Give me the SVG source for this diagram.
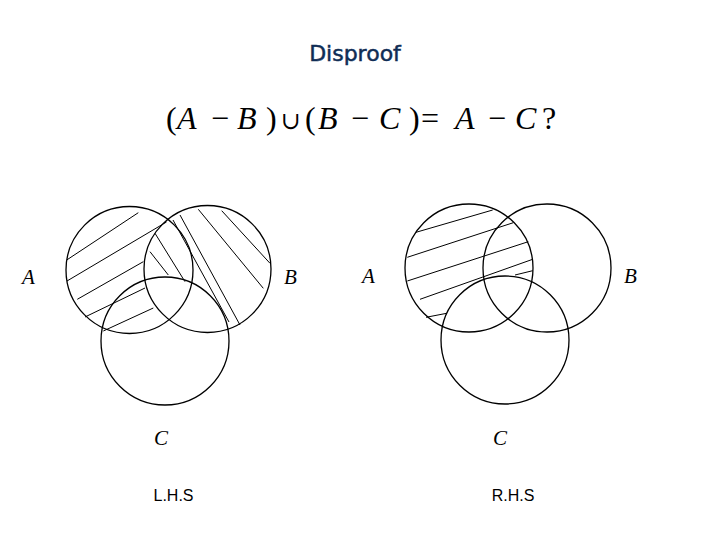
<svg xmlns="http://www.w3.org/2000/svg" width="720" height="540" viewBox="0 0 720 540">
<style>
.c{fill:none;stroke:#000;stroke-width:1.3}
.h{stroke:#000;stroke-width:1;fill:none}
.lbl{font-family:"Liberation Serif",serif;font-style:italic;font-size:21px;fill:#000}
.m{font-family:"Liberation Serif","DejaVu Serif",serif;font-size:32px;fill:#000}
.mi{font-style:italic}
.cap{font-family:"Liberation Sans",Arial,sans-serif;font-size:16px;fill:#000;text-anchor:middle}
</style>
<rect width="720" height="540" fill="#fff"/>
<text x="355" y="61" text-anchor="middle" font-family="'Comic Sans MS','DejaVu Sans',sans-serif" font-size="22" fill="#0f2d55" stroke="#0f2d55" stroke-width="0.5">Disproof</text>
<text class="m" y="129"><tspan x="166">(</tspan><tspan x="177" class="mi">A</tspan><tspan x="211">−</tspan><tspan x="237" class="mi">B</tspan><tspan x="266">)</tspan><tspan x="281" font-size="24">∪</tspan><tspan x="305">(</tspan><tspan x="318" class="mi">B</tspan><tspan x="351">−</tspan><tspan x="379" class="mi">C</tspan><tspan x="409">)</tspan><tspan x="421">=</tspan><tspan x="455" class="mi">A</tspan><tspan x="488">−</tspan><tspan x="515" class="mi">C</tspan><tspan x="542">?</tspan></text>
<g id="lhs">
<circle id="lA" class="c" cx="129.5" cy="270" r="63.5"/>
<circle id="lB" class="c" cx="207.5" cy="269" r="63.5"/>
<circle id="lC" class="c" cx="165" cy="341" r="64"/>
<g id="lhatch" class="h">
<line x1="66.7" y1="260" x2="138.3" y2="212.7"/>
<line x1="67" y1="281" x2="166.5" y2="222"/>
<line x1="77.3" y1="299.3" x2="143.3" y2="261.7"/>
<line x1="85" y1="317" x2="145" y2="288"/>
<line x1="103.3" y1="331" x2="153.3" y2="308"/>
<line x1="155" y1="233.3" x2="185" y2="281.7"/>
<line x1="150" y1="251.7" x2="168.3" y2="275"/>
<line x1="173" y1="220" x2="229" y2="322"/>
<line x1="180" y1="215" x2="240" y2="325"/>
<line x1="198.3" y1="209.3" x2="263.3" y2="288.3"/>
<line x1="221.7" y1="210.7" x2="270" y2="263.3"/>
</g>
<text class="lbl" x="22" y="284">A</text>
<text class="lbl" x="284" y="284">B</text>
<text class="lbl" x="154" y="445">C</text>
<text class="cap" x="173.5" y="501">L.H.S</text>
</g>
<g id="rhs">
<circle id="rA" class="c" cx="469" cy="268" r="64"/>
<circle id="rB" class="c" cx="547" cy="268" r="64"/>
<circle id="rC" class="c" cx="505" cy="340" r="64"/>
<g id="rhatch" class="h">
<line x1="416" y1="232.3" x2="492.7" y2="210"/>
<line x1="407.3" y1="257.3" x2="513.3" y2="222.7"/>
<line x1="407.3" y1="281" x2="528.3" y2="241.7"/>
<line x1="420" y1="299.3" x2="532.7" y2="259.3"/>
<line x1="426" y1="317.3" x2="446.7" y2="313.3"/>
<line x1="515" y1="275" x2="532.7" y2="270.7"/>
</g>
<text class="lbl" x="362" y="283">A</text>
<text class="lbl" x="624" y="283">B</text>
<text class="lbl" x="493" y="445">C</text>
<text class="cap" x="513" y="501">R.H.S</text>
</g>
</svg>
